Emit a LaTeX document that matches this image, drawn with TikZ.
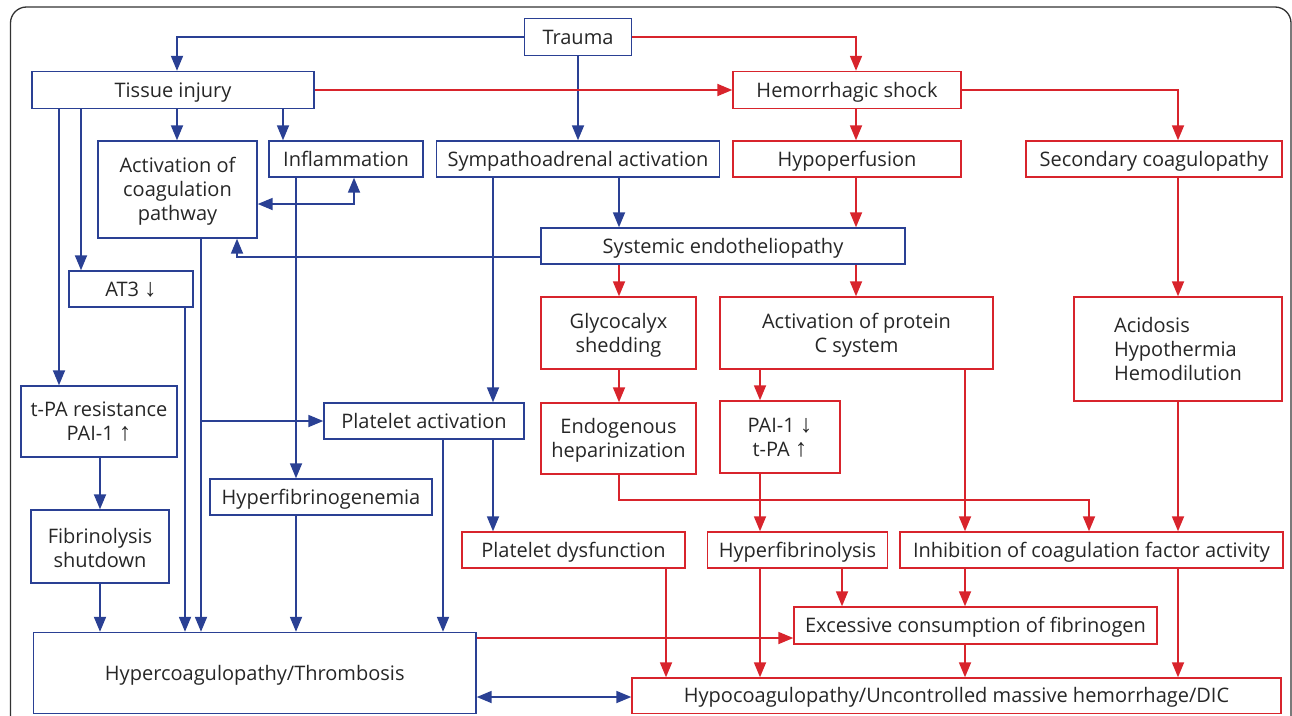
\documentclass[tikz,border=0pt]{standalone}
\usepackage{fontspec}
\setmainfont{Open Sans}
\newfontfamily\arrfont{Liberation Sans}
\usetikzlibrary{arrows.meta}
\definecolor{cblue}{RGB}{42,64,148}
\definecolor{cred}{RGB}{216,36,44}
\definecolor{ctext}{RGB}{38,38,38}
\definecolor{cframe}{RGB}{50,50,50}
\newcommand{\uarr}{{\arrfont\fontsize{25}{24}\selectfont ↑}}
\newcommand{\darr}{{\arrfont\fontsize{25}{24}\selectfont ↓}}
\newcommand{\bt}{\rule{0pt}{20pt}}
\newcommand{\et}{\rule[-5.7pt]{0pt}{0pt}}
\begin{document}
\begin{tikzpicture}[x=1pt,y=-1pt,
  box/.style={draw, line width=1.4pt, inner sep=0pt, text=ctext, align=center,
    font=\fontsize{20}{24}\selectfont},
  bbox/.style={box, draw=cblue},
  rbox/.style={box, draw=cred},
  conn/.style={line width=1.8pt, -{Triangle[length=15pt,width=12pt]}},
  ba/.style={conn, color=cblue},
  bab/.style={line width=1.8pt, color=cblue, {Triangle[length=15pt,width=12pt]}-{Triangle[length=15pt,width=12pt]}},
  ra/.style={conn, color=cred}]
\useasboundingbox (0,0) rectangle (1292,715);
\clip (0,0) rectangle (1292,715);
\draw[cframe, line width=1.3pt, rounded corners=16pt] (10.5,760) -- (10.5,7) -- (1291,7) -- (1291,760);

% nodes
\node[bbox, minimum width=107pt, minimum height=37pt] (tr) at (578,37) {\bt Trauma\et};
\node[bbox, minimum width=282pt, minimum height=37pt] (ti) at (173,90) {\bt Tissue injury\et};
\node[rbox, minimum width=228pt, minimum height=37pt] (hs) at (847,90) {\bt Hemorrhagic shock\et};
\node[bbox, minimum width=159pt, minimum height=97pt] (ac) at (177.5,189.5) {\bt Activation of\\coagulation\\pathway\et};
\node[bbox, minimum width=154pt, minimum height=36pt] (inf) at (346,159) {\bt Inflammation\et};
\node[bbox, minimum width=283pt, minimum height=36pt] (sa) at (578,159) {\bt Sympathoadrenal activation\et};
\node[rbox, minimum width=228pt, minimum height=36pt] (hp) at (847,159) {\bt Hypoperfusion\et};
\node[rbox, minimum width=256pt, minimum height=36pt] (sc) at (1154,159) {\bt Secondary coagulopathy\et};
\node[bbox, minimum width=364pt, minimum height=36pt] (se) at (723,246) {\bt Systemic endotheliopathy\et};
\node[bbox, minimum width=124pt, minimum height=36pt] (at) at (131,289) {\bt AT3 \darr\et};
\node[rbox, minimum width=155pt, minimum height=72pt] (gs) at (618.5,333) {\bt Glycocalyx\\shedding\et};
\node[rbox, minimum width=273pt, minimum height=72pt] (pc) at (856.5,333) {\bt Activation of protein\\C system\et};
\node[rbox, minimum width=208pt, minimum height=104pt, align=left] (ad) at (1178,349) {\bt Acidosis\\Hypothermia\\Hemodilution\et};
\node[bbox, minimum width=156pt, minimum height=71pt] (tp) at (99,421.5) {\bt t-PA resistance\\PAI-1 \uarr\et};
\node[bbox, minimum width=200pt, minimum height=36pt] (pa) at (424,421) {\bt Platelet activation\et};
\node[rbox, minimum width=155pt, minimum height=71pt] (eh) at (618.5,438.5) {\bt Endogenous\\heparinization\et};
\node[rbox, minimum width=120pt, minimum height=72pt] (pi) at (780,437) {\bt PAI-1 \darr\\t-PA \uarr\et};
\node[bbox, minimum width=222pt, minimum height=36pt] (hf) at (321,497) {\bt Hyperfibrinogenemia\et};
\node[bbox, minimum width=138pt, minimum height=73pt] (fs) at (100,546.5) {\bt\rule{0pt}{23pt}Fibrinolysis\\shutdown\et};
\node[rbox, minimum width=223pt, minimum height=36pt] (pd) at (573.5,550) {\bt Platelet dysfunction\et};
\node[rbox, minimum width=180pt, minimum height=36pt] (hy) at (797.5,550) {\bt Hyperfibrinolysis\et};
\node[rbox, minimum width=383pt, minimum height=36pt] (ic) at (1091.5,550) {\bt Inhibition of coagulation factor activity\et};
\node[rbox, minimum width=363pt, minimum height=37pt] (ex) at (975.5,625.5) {\bt Excessive consumption of fibrinogen\et};
\node[bbox, minimum width=442.5pt, minimum height=81pt] (hc) at (254.75,673) {\bt Hypercoagulopathy/Thrombosis\et};
\node[rbox, minimum width=649pt, minimum height=35.5pt] (ho) at (956.5,695.75) {\bt Hypocoagulopathy/Uncontrolled massive hemorrhage/DIC\et};

% helper coordinates
\coordinate (x58) at (59,0);
\coordinate (x81) at (81,0);
\coordinate (x99) at (100,0);
\coordinate (x177) at (177,0);
\coordinate (x185) at (185,0);
\coordinate (x201) at (201,0);
\coordinate (x237) at (237,257);
\coordinate (x283) at (283,0);
\coordinate (x296) at (296,0);
\coordinate (x354) at (354,204);
\coordinate (x442) at (443,0);
\coordinate (x493) at (493,0);
\coordinate (x619) at (619,500);
\coordinate (x665) at (666,0);
\coordinate (x760) at (760,0);
\coordinate (x841) at (842,0);
\coordinate (x856) at (856,0);
\coordinate (x965) at (965,0);
\coordinate (x1089) at (1089,0);
\coordinate (x1178) at (1178,0);
\coordinate (yb) at (0,697);
\coordinate (yr) at (0,638);

% blue connectors
\draw[ba] (tr.west) -| (ti.north -| x177);
\draw[ba] (tr.south) -- (sa.north);
\draw[ba] (ti.south -| x177) -- (ac.north -| x177);
\draw[ba] (ti.south -| x283) -- (inf.north -| x283);
\draw[ba] (ti.south -| x81) -- (at.north -| x81);
\draw[ba] (ti.south -| x58) -- (tp.north -| x58);
\draw[bab] (ac.east |- x354) -| (inf.south -| x354);
\draw[ba] (se.west |- x237) -| (ac.south -| x237);
\draw[ba] (inf.south -| x296) -- (hf.north -| x296);
\draw[ba] (sa.south -| x493) -- (pa.north -| x493);
\draw[ba] (sa.south -| x619) -- (se.north -| x619);
\draw[ba] (ac.south -| x201) -- (hc.north -| x201);
\draw[ba] (pa.west -| x201) -- (pa.west);
\draw[ba] (at.south -| x185) -- (hc.north -| x185);
\draw[ba] (tp.south -| x99) -- (fs.north -| x99);
\draw[ba] (fs.south -| x99) -- (hc.north -| x99);
\draw[ba] (hf.south -| x296) -- (hc.north -| x296);
\draw[ba] (pa.south -| x442) -- (hc.north -| x442);
\draw[ba] (pa.south -| x493) -- (pd.north -| x493);
\draw[bab] (hc.east |- yb) -- (ho.west |- yb);

% red connectors
\draw[ra] (tr.east) -| (hs.north -| x856);
\draw[ra] (ti.east) -- (hs.west);
\draw[ra] (hs.south -| x856) -- (hp.north -| x856);
\draw[ra] (hs.east) -| (sc.north -| x1178);
\draw[ra] (hp.south -| x856) -- (se.north -| x856);
\draw[ra] (sc.south -| x1178) -- (ad.north -| x1178);
\draw[ra] (se.south -| x619) -- (gs.north -| x619);
\draw[ra] (se.south -| x856) -- (pc.north -| x856);
\draw[ra] (gs.south -| x619) -- (eh.north -| x619);
\draw[ra] (pc.south -| x760) -- (pi.north -| x760);
\draw[ra] (pc.south -| x965) -- (ic.north -| x965);
\draw[ra] (eh.south -| x619) -- (x619) -| (ic.north -| x1089);
\draw[ra] (pi.south -| x760) -- (hy.north -| x760);
\draw[ra] (ad.south -| x1178) -- (ic.north -| x1178);
\draw[ra] (pd.south -| x665) -- (ho.north -| x665);
\draw[ra] (hy.south -| x760) -- (ho.north -| x760);
\draw[ra] (hy.south -| x841) -- (ex.north -| x841);
\draw[ra] (ic.south -| x965) -- (ex.north -| x965);
\draw[ra] (ex.south -| x965) -- (ho.north -| x965);
\draw[ra] (ic.south -| x1178) -- (ho.north -| x1178);
\draw[ra] (hc.east |- yr) -- (ex.west |- yr);
\end{tikzpicture}
\end{document}
